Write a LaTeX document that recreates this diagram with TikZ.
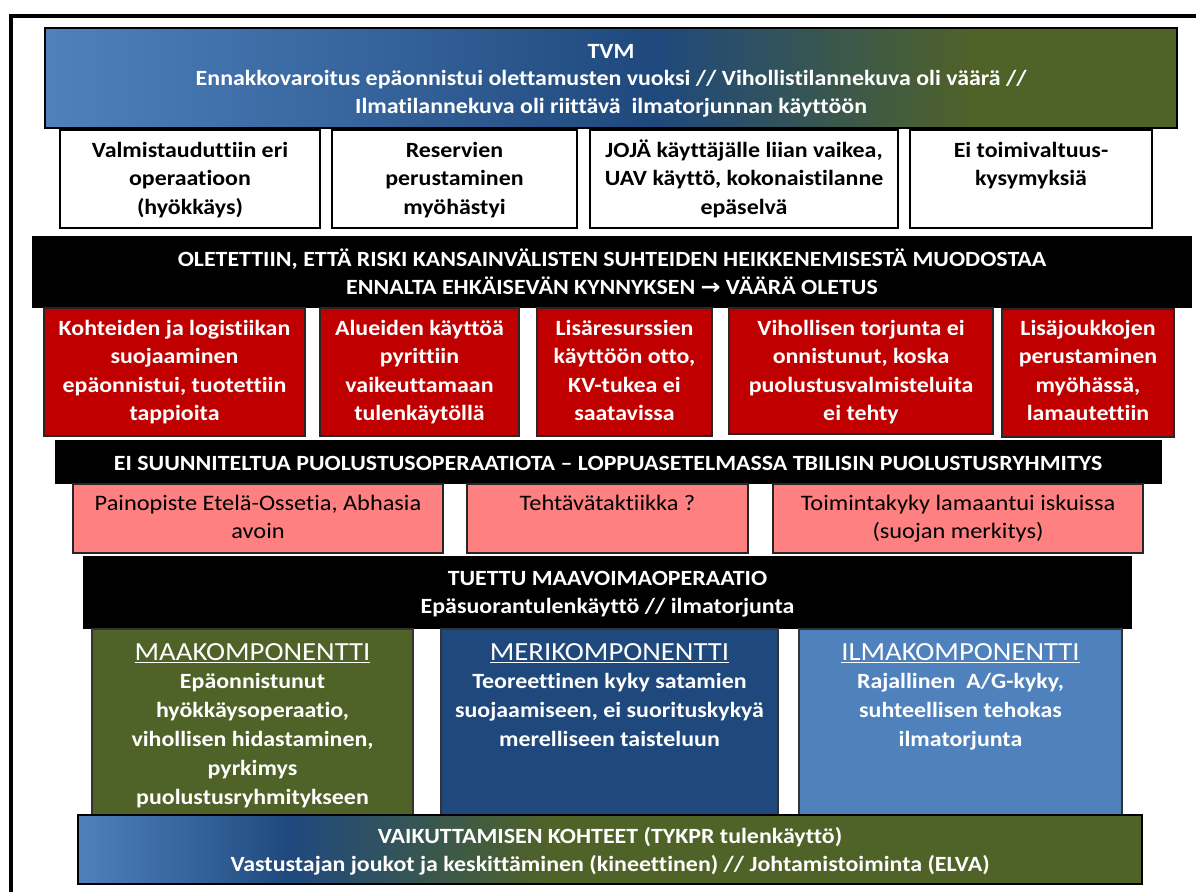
\documentclass[tikz,border=0pt]{standalone}
\usepackage{fontspec}
\setmainfont{Carlito}[FakeStretch=1.1, Ligatures=NoCommon]
\newfontfamily\arrowfont{DejaVu Sans}[FakeStretch=1.1]
\definecolor{lb}{RGB}{79,129,189}
\definecolor{db}{RGB}{31,73,125}
\definecolor{gr}{RGB}{79,98,40}
\definecolor{redbox}{RGB}{192,0,0}
\definecolor{pinkbox}{RGB}{255,128,128}
\pgfdeclarehorizontalshading{tvmshade}{100bp}{color(0bp)=(lb); color(25bp)=(lb); color(52bp)=(db); color(66bp)=(gr); color(75bp)=(gr); color(100bp)=(gr)}
\pgfdeclarehorizontalshading{botshade}{100bp}{color(0bp)=(lb); color(25bp)=(lb); color(35bp)=(db); color(47bp)=(gr); color(75bp)=(gr); color(100bp)=(gr)}
\newcommand\sr{\rule{0pt}{15pt}}
\newcommand\fsa{\fontsize{16.3}{21.4}\selectfont}
\newcommand\fsp{\fontsize{16.6}{21.4}\selectfont}
\newcommand\fsb{\fontsize{16.3}{20.6}\selectfont}
\newcommand\fsc{\fontsize{16.3}{21.75}\selectfont}
\newcommand\fsh{\fontsize{19.6}{21.75}\selectfont}
\tikzset{
  txtw/.style={inner sep=0pt, align=center, anchor=north, text=white, font=\bfseries\fsa},
  txtk/.style={inner sep=0pt, align=center, anchor=north, text=black, font=\bfseries\fsa},
  txtp/.style={inner sep=0pt, align=center, anchor=north, text=black, font=\fsp},
  head/.style={inner sep=0pt, align=center, anchor=north, text=white, font=\fsh},
  whitebox/.style={draw=black, line width=1.6pt, fill=white},
  redstyle/.style={draw=black!85, line width=1.5pt, fill=redbox},
  pinkstyle/.style={draw=black!85, line width=1.5pt, fill=pinkbox},
  barstyle/.style={fill=black},
  gradbox/.style={draw=black, line width=2.2pt, shade},
  compbox/.style={draw=black!80, line width=1pt},
}
\begin{document}
\begin{tikzpicture}[x=0.75pt,y=-0.75pt]
\useasboundingbox (0,0) rectangle (1204,892);
% frame
\draw[line width=3pt] (10.5,892) -- (10.5,16.5) -- (1196,16.5);
% TVM
\path[gradbox, shading=tvmshade] (45,28) rectangle (1177,128);
\node[txtw, font=\bfseries\fsb] (tvm) at (611,38) {\sr TVM\\Ennakkovaroitus epäonnistui olettamusten vuoksi // Vihollistilannekuva oli väärä //\\Ilmatilannekuva oli riittävä\ \ ilmatorjunnan käyttöön};
% white boxes
\draw[whitebox] (60,130) rectangle (320,228);
\draw[whitebox] (332,130) rectangle (577,228);
\draw[whitebox] (590,130) rectangle (898,228);
\draw[whitebox] (910,130) rectangle (1152,228);
\node[txtk] (w1) at (190,137) {\sr Valmistauduttiin eri\\operaatioon\\(hyökkäys)};
\node[txtk] (w2) at (454.5,137) {\sr Reservien\\perustaminen\\myöhästyi};
\node[txtk] (w3) at (744,137) {\sr JOJÄ käyttäjälle liian vaikea,\\UAV käyttö, kokonaistilanne\\epäselvä};
\node[txtk] (w4) at (1031,137) {\sr Ei toimivaltuus-\\kysymyksiä};
% bar 1
\fill[barstyle] (32,236) rectangle (1192,308);
\node[txtw] (bar1) at (612,246) {\sr OLETETTIIN, ETTÄ RISKI KANSAINVÄLISTEN SUHTEIDEN HEIKKENEMISESTÄ MUODOSTAA\\ENNALTA EHKÄISEVÄN KYNNYKSEN {\arrowfont\bfseries →} VÄÄRÄ OLETUS};
% red boxes
\draw[redstyle] (44,308) rectangle (305,436);
\draw[redstyle] (320,308) rectangle (519,436);
\draw[redstyle] (537,308) rectangle (712,436);
\draw[redstyle] (729,308) rectangle (993,434);
\draw[redstyle] (1002,309) rectangle (1174,437);
\node[txtw] (r1) at (174.5,315) {\sr Kohteiden ja logistiikan\\suojaaminen\\epäonnistui, tuotettiin\\tappioita};
\node[txtw] (r2) at (419.5,315) {\sr Alueiden käyttöä\\pyrittiin\\vaikeuttamaan\\tulenkäytöllä};
\node[txtw] (r3) at (624.5,315) {\sr Lisäresurssien\\käyttöön otto,\\KV-tukea ei\\saatavissa};
\node[txtw] (r4) at (861,315) {\sr Vihollisen torjunta ei\\onnistunut, koska\\puolustusvalmisteluita\\ei tehty};
\node[txtw] (r5) at (1088,315) {\sr Lisäjoukkojen\\perustaminen\\myöhässä,\\lamautettiin};
% bar 2
\fill[barstyle] (55,440) rectangle (1162,484);
\node[txtw] (bar2) at (608,450) {\sr EI SUUNNITELTUA PUOLUSTUSOPERAATIOTA – LOPPUASETELMASSA TBILISIN PUOLUSTUSRYHMITYS};
% pink boxes
\draw[pinkstyle] (73,484) rectangle (443,553);
\draw[pinkstyle] (467,484) rectangle (748,553);
\draw[pinkstyle] (773,484) rectangle (1143,553);
\node[txtp] (p1) at (258,490) {\sr Painopiste Etelä-Ossetia, Abhasia\\avoin};
\node[txtp] (p2) at (607.5,490) {\sr Tehtävätaktiikka ?};
\node[txtp] (p3) at (958,490) {\sr Toimintakyky lamaantui iskuissa\\(suojan merkitys)};
% bar 3
\fill[barstyle] (83,556) rectangle (1132,629);
\node[txtw] (bar3) at (607.5,565) {\sr TUETTU MAAVOIMAOPERAATIO\\Epäsuorantulenkäyttö // ilmatorjunta};
% components
\draw[compbox, fill=gr] (92,629) rectangle (413,815);
\draw[compbox, fill=db] (441,629) rectangle (778,815);
\draw[compbox, fill=lb] (799,629) rectangle (1122,815);
\node[head] (maah) at (252.5,640) {\sr \underline{MAAKOMPONENTTI}};
\node[head] (merih) at (609.5,640) {\sr \underline{MERIKOMPONENTTI}};
\node[head] (ilmah) at (960.5,640) {\sr \underline{ILMAKOMPONENTTI}};
\node[txtw, font=\bfseries\fsc] (maa) at (252.5,668) {\sr Epäonnistunut\\hyökkäysoperaatio,\\vihollisen hidastaminen,\\pyrkimys\\puolustusryhmitykseen};
\node[txtw, font=\bfseries\fsc] (meri) at (609.5,668) {\sr Teoreettinen kyky satamien\\suojaamiseen, ei suorituskykyä\\merelliseen taisteluun};
\node[txtw, font=\bfseries\fsc] (ilma) at (960.5,668) {\sr Rajallinen\ \ A/G-kyky,\\suhteellisen tehokas\\ilmatorjunta};
% bottom box
\path[gradbox, shading=botshade] (78,815) rectangle (1142,884);
\node[txtw] (bot) at (610,823) {\sr VAIKUTTAMISEN KOHTEET (TYKPR tulenkäyttö)\\Vastustajan joukot ja keskittäminen (kineettinen) // Johtamistoiminta (ELVA)};
\end{tikzpicture}
\end{document}
